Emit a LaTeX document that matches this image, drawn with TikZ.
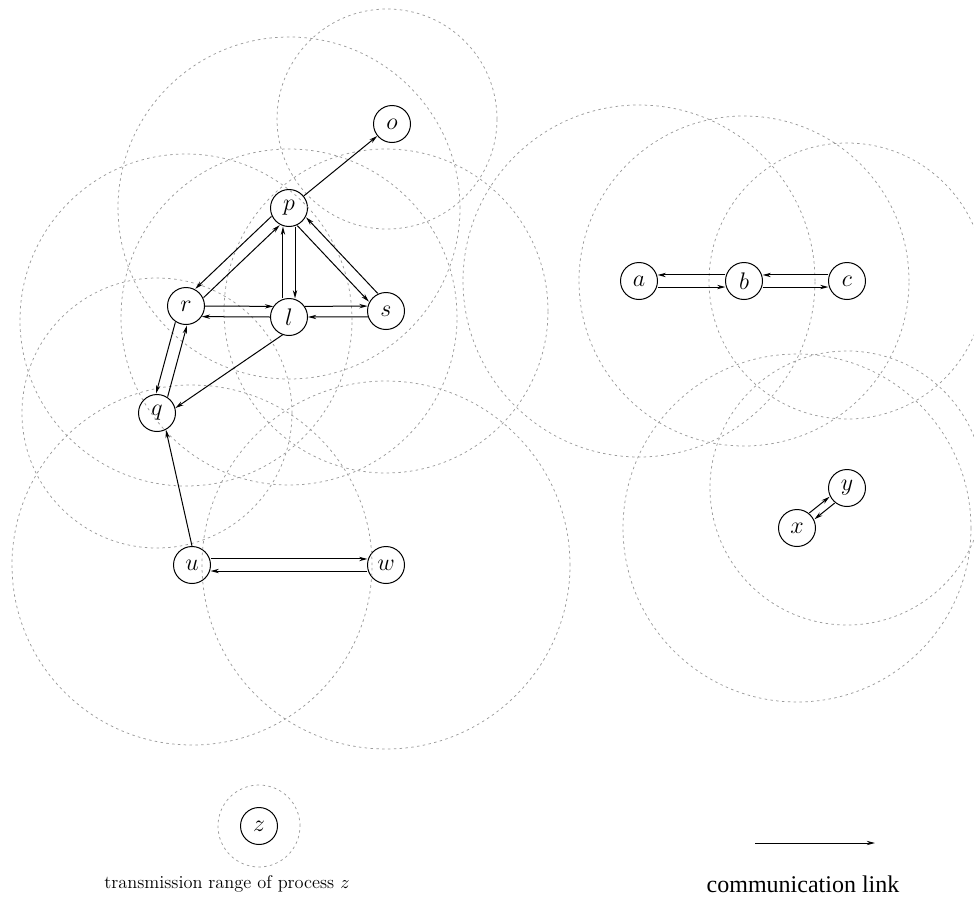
\documentclass[tikz,border=0pt]{standalone}
\usepackage{fontspec}
\newfontfamily\timesfont{Liberation Serif}
\usetikzlibrary{arrows.meta,calc}
\definecolor{rangegray}{RGB}{155,155,155}
\def\nr{11.7pt}
\newcommand\twoway[3]{%
  \draw[commlink] let \p1=($(#2)-(#1)$), \n1={atan2(\y1,\x1)} in ($(#1)+(\n1+#3:\nr)$) -- ($(#2)+(\n1+180-#3:\nr)$);
  \draw[commlink] let \p1=($(#1)-(#2)$), \n1={atan2(\y1,\x1)} in ($(#2)+(\n1+#3:\nr)$) -- ($(#1)+(\n1+180-#3:\nr)$);
}
\begin{document}
\begin{tikzpicture}[x=0.6pt,y=-0.6pt,
  procnode/.style={circle,draw,line width=0.6pt,minimum size=22.2pt,inner sep=0pt,font=\Large},
  txrange/.style={draw=rangegray,dash pattern=on 1.5pt off 2pt,line width=0.45pt},
  commlink/.style={line width=0.6pt,-{Stealth[length=5pt,width=2.6pt]}}]
\useasboundingbox (0,0) rectangle (974,899);

% processes
\node[procnode] (o) at (392,124) {$o$};
\node[procnode] (p) at (289,208) {$p$};
\node[procnode] (r) at (186,306) {$r$};
\node[procnode] (l) at (289,317) {$l$};
\node[procnode] (s) at (386,311) {$s$};
\node[procnode] (q) at (157,413) {$q$};
\node[procnode] (u) at (192,565) {$u$};
\node[procnode] (w) at (386,565) {$w$};
\node[procnode] (a) at (639,281) {$a$};
\node[procnode] (b) at (744,281) {$b$};
\node[procnode] (c) at (847,281) {$c$};
\node[procnode] (y) at (847,488) {$y$};
\node[procnode] (x) at (797,528) {$x$};
\node[procnode] (z) at (259,826) {$z$};

% transmission ranges
\draw[txrange] ([shift={(-5,-5)}]o.center) circle[radius=110*0.6pt];
\draw[txrange] (p.center) circle[radius=171*0.6pt];
\draw[txrange] ([shift={(0,14)}]r.center) circle[radius=166*0.6pt];
\draw[txrange] (l.center) circle[radius=168*0.6pt];
\draw[txrange] (s.center) circle[radius=162*0.6pt];
\draw[txrange] (q.center) circle[radius=135*0.6pt];
\draw[txrange] (u.center) circle[radius=180*0.6pt];
\draw[txrange] (w.center) circle[radius=184*0.6pt];
\draw[txrange] (a.center) circle[radius=176*0.6pt];
\draw[txrange] (b.center) circle[radius=165*0.6pt];
\draw[txrange] (c.center) circle[radius=138*0.6pt];
\draw[txrange] (y.center) circle[radius=137*0.6pt];
\draw[txrange] (x.center) circle[radius=174*0.6pt];
\draw[txrange] (z.center) circle[radius=41*0.6pt];

% communication links
\draw[commlink] (p) -- (o);
\twoway{p}{r}{-18}
\twoway{l}{p}{18}
\twoway{p}{s}{-18}
\draw[commlink] (r.east) -- (l.146);
\draw[commlink] (l.west) -- (r.-34);
\draw[commlink] (l.34) -- (s.165);
\draw[commlink] (s.198) -- (l.east);
\twoway{r}{q}{-18}
\draw[commlink] (l.-110) -- (q.15);
\draw[commlink] (u.north) -- (q.-62);
\twoway{u}{w}{18}
\twoway{a}{b}{-18}
\twoway{b}{c}{-18}
\twoway{x}{y}{12}

% legend
\coordinate (lg1) at (755,843);
\coordinate (lg2) at (875,843);
\draw[commlink] (lg1) -- (lg2);
\node[font=\timesfont\fontsize{14.4}{17}\selectfont] (lgc) at (803,884) {communication link};
\node[font=\fontsize{11}{13}\selectfont] (lgz) at (227,884) {transmission range of process $z$};
\end{tikzpicture}
\end{document}
